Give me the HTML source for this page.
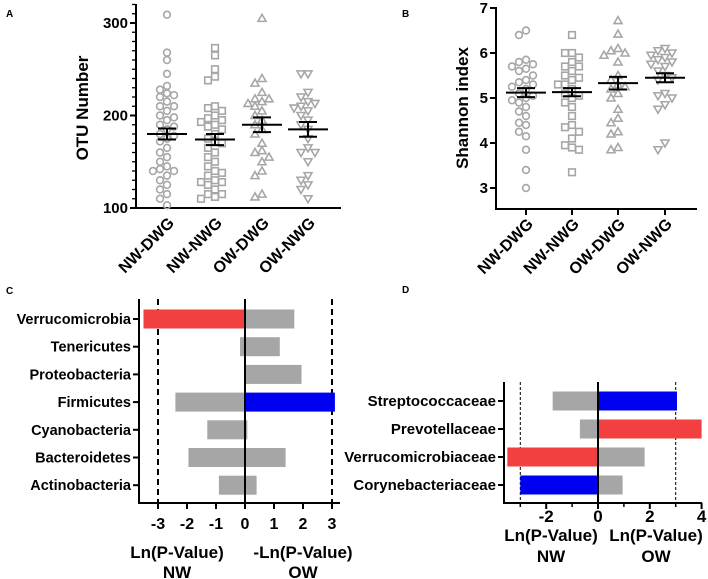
<!DOCTYPE html>
<html><head><meta charset="utf-8"><style>
body{margin:0;background:#fff}
svg{display:block;font-family:"Liberation Sans",Arial,sans-serif}
</style></head><body>
<svg id="fig" width="708" height="579" viewBox="0 0 708 579">
<text x="6" y="17" font-size="10" font-weight="bold">A</text>
<text x="402" y="17" font-size="10" font-weight="bold">B</text>
<text x="6" y="294" font-size="10" font-weight="bold">C</text>
<text x="402" y="293" font-size="10" font-weight="bold">D</text>
<g id="pA"></g>
<g id="pB"></g>
<g id="pC"></g>
<g id="pD"></g>
</svg>
<script>
const groups = ["NW-DWG","NW-NWG","OW-DWG","OW-NWG"];
const otuNWDWG = [309,268,260,245,232,228,224,222,220,215,210,210,205,200,198,195,190,188,185,180,178,175,172,165,160,155,150,145,142,140,140,135,130,125,120,115,110,103];
const otuNWNWG = [273,265,250,242,238,210,208,205,200,197,195,193,190,188,185,180,175,172,170,165,160,155,150,145,140,138,135,130,128,128,125,120,115,115,112,110];
const otuOWDWG = [305,240,235,225,218,218,215,213,210,205,200,195,190,185,180,170,162,160,155,150,140,135,115,112];
const otuOWNWG = [245,245,225,220,215,213,210,208,205,200,195,190,185,175,165,160,160,150,135,130,125,120,110];
const otuMean = [180,174,190,185];
const otuSem = [6,6,8,8];
const otuTicks = [100,200,300];
const shNWDWG = [6.5,6.4,5.85,5.8,5.75,5.7,5.65,5.6,5.5,5.4,5.35,5.3,5.25,5.2,5.1,5.05,5.0,4.95,4.9,4.8,4.7,4.6,4.45,4.4,4.25,4.15,3.85,3.4,3.0];
const shNWNWG = [6.4,6.0,6.0,5.9,5.8,5.7,5.7,5.6,5.5,5.45,5.4,5.3,5.3,5.2,5.1,5.05,5.0,4.9,4.8,4.6,4.4,4.35,4.25,4.1,3.95,3.9,3.85,3.35];
const shOWDWG = [6.72,6.42,6.1,6.05,6.0,5.95,5.8,5.5,5.4,5.3,5.25,5.2,5.1,5.0,4.75,4.55,4.45,4.25,4.2,3.9,3.85];
const shOWNWG = [6.1,6.05,6.0,5.95,5.9,5.85,5.8,5.75,5.7,5.6,5.5,5.45,5.4,5.1,5.05,5.0,4.85,4.75,4.0,3.85];
const shMean = [5.12,5.13,5.33,5.45];
const shSem = [0.1,0.09,0.14,0.1];
const shTicks = [3,4,5,6,7];
const phyla = ["Verrucomicrobia","Tenericutes","Proteobacteria","Firmicutes","Cyanobacteria","Bacteroidetes","Actinobacteria"];
const phyNW = [-3.5,-0.17,0,-2.4,-1.3,-1.95,-0.9];
const phyOW = [1.7,1.2,1.95,3.1,0.08,1.4,0.4];
const phyNWColor = ["#f24040","#a6a6a6","#a6a6a6","#a6a6a6","#a6a6a6","#a6a6a6","#a6a6a6"];
const phyOWColor = ["#a6a6a6","#a6a6a6","#a6a6a6","#0000f0","#a6a6a6","#a6a6a6","#a6a6a6"];
const phyTicks = [-3,-2,-1,0,1,2,3];
const fams = ["Streptococcaceae","Prevotellaceae","Verrucomicrobiaceae","Corynebacteriaceae"];
const famNW = [-1.75,-0.7,-3.5,-3];
const famOW = [3.05,4,1.8,0.95];
const famNWColor = ["#a6a6a6","#a6a6a6","#f24040","#0000f0"];
const famOWColor = ["#0000f0","#f24040","#a6a6a6","#a6a6a6"];
const famTicks = [-2,0,2,4];
const famMinor = [-3,-1,1,3];

const NS="http://www.w3.org/2000/svg";
function mk(parent,tag,attrs,text){const e=document.createElementNS(NS,tag);for(const k in attrs)e.setAttribute(k,attrs[k]);if(text!==undefined)e.textContent=text;parent.appendChild(e);return e;}
const GRAY="#a6a6a6";
function marker(g,shape,x,y){
  const st={fill:"none",stroke:GRAY,"stroke-width":1.6};
  let e;
  if(shape==0) e=mk(g,"circle",Object.assign({cx:x,cy:y,r:3.4},st));
  else if(shape==1) e=mk(g,"rect",Object.assign({x:x-3.3,y:y-3.3,width:6.6,height:6.6},st));
  else if(shape==2) e=mk(g,"polygon",Object.assign({points:`${x},${y-4} ${x-4},${y+3} ${x+4},${y+3}`},st));
  else e=mk(g,"polygon",Object.assign({points:`${x},${y+4} ${x-4},${y-3} ${x+4},${y-3}`},st));
  
  
}
function jitterOffsets(vals,yf){
  const out=[];const placed=[];
  vals.forEach((v,i)=>{const y=yf(v);let k=0;const cands=[0,-7,7,-14,14,-21,21];
    for(const c of cands){if(!placed.some(p=>Math.abs(p[0]-c)<7&&Math.abs(p[1]-y)<7)){k=c;break;}}
    placed.push([k,y]);out.push(k);});
  return out;
}
function scatterPanel(g,o){
  const y=v=>o.y0+(v-o.v0)*(o.y1-o.y0)/(o.v1-o.v0);
  const ax=mk(g,"path",{d:`M${o.ax},${o.top}V${o.base}H${o.right}`,stroke:"#000","stroke-width":2,fill:"none"});
  
  if(o.minor){for(let v=o.minorFrom;v<=o.minorTo;v+=o.minor){mk(g,"line",{x1:o.ax-4,x2:o.ax,y1:y(v),y2:y(v),stroke:"#000","stroke-width":1.3});}}
  o.ticks.forEach(t=>{mk(g,"line",{x1:o.ax-6,x2:o.ax,y1:y(t),y2:y(t),stroke:"#000","stroke-width":2});
    const tl=mk(g,"text",{x:o.ax-8,y:y(t)+5,"text-anchor":"end","font-size":15,"font-weight":"bold"},t);
    });
  const yt=mk(g,"text",{transform:`translate(${o.titleX},${o.titleY}) rotate(-90)`,"text-anchor":"middle","font-size":17,"font-weight":"bold"},o.title);
  
  o.series.forEach((vals,i)=>{
    const cx=o.cx[i];
    if(o.xticks) mk(g,"line",{x1:cx,x2:cx,y1:o.base,y2:o.base+6,stroke:"#000","stroke-width":2});
    const offs=jitterOffsets(vals,y);
    vals.forEach((v,j)=>marker(g,i,cx+offs[j],y(v)));
    const m=o.mean[i],s=o.sem[i];
    const eb=mk(g,"path",{d:`M${cx-20},${y(m)}H${cx+20}M${cx},${y(m+s)}V${y(m-s)}M${cx-9},${y(m+s)}H${cx+9}M${cx-9},${y(m-s)}H${cx+9}`,stroke:"#000","stroke-width":2,fill:"none"});
    
    const xl=mk(g,"text",{transform:`translate(${cx+8},${o.base+16}) rotate(-45)`,"text-anchor":"end","font-size":16,"font-weight":"bold"},groups[i]);
    
  });
}
scatterPanel(document.getElementById("pA"),{ax:136,top:4,base:208,right:341,y0:23,y1:208,v0:300,v1:100,ticks:otuTicks,minor:10,minorFrom:100,minorTo:320,
  title:"OTU Number",titleX:88,titleY:108,series:[otuNWDWG,otuNWNWG,otuOWDWG,otuOWNWG],mean:otuMean,sem:otuSem,cx:[167,215,262,308],xticks:false});
scatterPanel(document.getElementById("pB"),{ax:496,top:7,base:209,right:697,y0:8,y1:188,v0:7,v1:3,ticks:shTicks,
  title:"Shannon index",titleX:468,titleY:108,series:[shNWDWG,shNWNWG,shOWDWG,shOWNWG],mean:shMean,sem:shSem,cx:[526,572,618,665],xticks:true});

function barPanel(g,o){
  const x=v=>o.zx+v*o.ppu;
  const ax=mk(g,"path",{d:`M${o.ax},${o.top}V${o.base}H${o.right}`,stroke:"#000","stroke-width":2,fill:"none"});
  
  [-3,3].forEach(v=>{const d=mk(g,"line",{x1:x(v),x2:x(v),y1:o.top,y2:o.base,stroke:"#000","stroke-width":o.dashW,"stroke-dasharray":o.dash});
    });
  o.cats.forEach((c,i)=>{
    const cy=o.cy0+i*o.step;
    const b1=mk(g,"rect",{x:x(Math.min(0,o.neg[i])),y:cy-o.bh/2,width:Math.abs(o.neg[i])*o.ppu,height:o.bh,fill:o.negC[i]});
    
    const b2=mk(g,"rect",{x:x(0),y:cy-o.bh/2,width:Math.abs(o.pos[i])*o.ppu,height:o.bh,fill:o.posC[i]});
    
    mk(g,"line",{x1:o.ax-6,x2:o.ax,y1:cy,y2:cy,stroke:"#000","stroke-width":2});
    const l=mk(g,"text",{x:o.ax-8,y:cy+5,"text-anchor":"end","font-size":o.catFs,"font-weight":"bold"},c);
    
  });
  mk(g,"line",{x1:x(0),x2:x(0),y1:o.top,y2:o.base,stroke:"#000","stroke-width":2});
  o.ticks.forEach(t=>{mk(g,"line",{x1:x(t),x2:x(t),y1:o.base,y2:o.base+6,stroke:"#000","stroke-width":2});
    const tl=mk(g,"text",{x:x(t),y:o.tickY,"text-anchor":"middle","font-size":o.tickFs,"font-weight":"bold"},t);
    });
  (o.minor||[]).forEach(t=>mk(g,"line",{x1:x(t),x2:x(t),y1:o.base,y2:o.base+4,stroke:"#000","stroke-width":1.5}));
  o.titles.forEach(tt=>{const e=mk(g,"text",{x:tt[0],y:tt[1],"text-anchor":"middle","font-size":17,"font-weight":"bold"},tt[2]);
    });
}
barPanel(document.getElementById("pC"),{ax:139,top:299,base:503,right:340,zx:245,ppu:29,cats:phyla,neg:phyNW,pos:phyOW,negC:phyNWColor,posC:phyOWColor,
  cy0:319,step:27.7,bh:19,ticks:phyTicks,tickY:529,dash:"6,4",dashW:2,catFs:14.5,tickFs:16,
  titles:[[177,558,"Ln(P-Value)"],[177,578,"NW"],[303,558,"-Ln(P-Value)"],[303,578,"OW"]]});
barPanel(document.getElementById("pD"),{ax:504,top:382,base:503,right:702,zx:598,ppu:25.9,cats:fams,neg:famNW,pos:famOW,negC:famNWColor,posC:famOWColor,
  cy0:401,step:28,bh:19,ticks:famTicks,minor:famMinor,tickY:522,dash:"3,2",dashW:1,catFs:15,tickFs:17,
  titles:[[551,541,"Ln(P-Value)"],[551,562,"NW"],[656,541,"Ln(P-Value)"],[656,562,"OW"]]});
</script>
</body></html>
